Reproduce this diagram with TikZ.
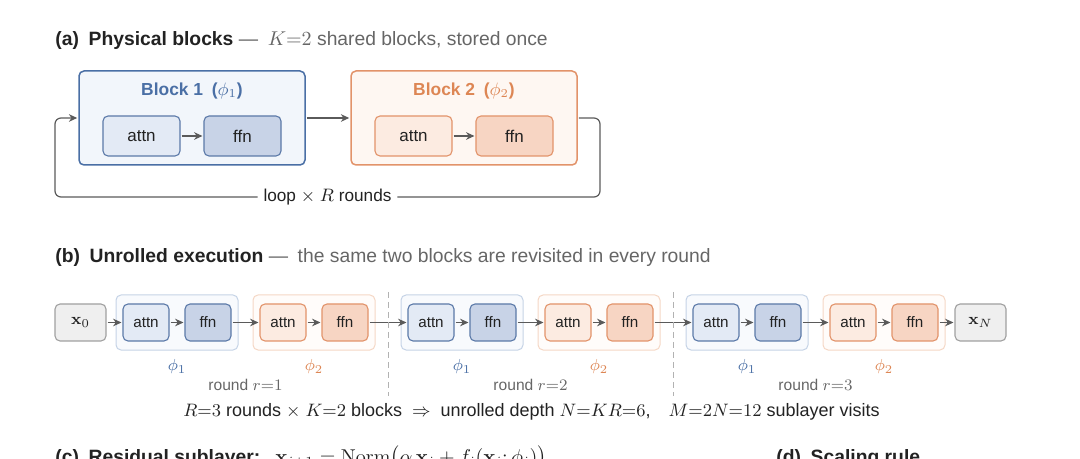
\documentclass[tikz,border=0pt]{standalone}
\usepackage[no-math]{fontspec}
\setmainfont{Liberation Sans}
\usetikzlibrary{arrows.meta}
\definecolor{blueD}{HTML}{4A6FA5}
\definecolor{blueIn}{HTML}{5B79A8}
\definecolor{blueBg}{HTML}{F2F6FB}
\definecolor{blueA}{HTML}{E3EAF5}
\definecolor{blueF}{HTML}{C8D3E7}
\definecolor{blueG}{HTML}{C5D3E6}
\definecolor{blueGbg}{HTML}{F8FAFD}
\definecolor{orD}{HTML}{E2936A}
\definecolor{orT}{HTML}{DD8654}
\definecolor{orBg}{HTML}{FEF7F2}
\definecolor{orA}{HTML}{FCEBE1}
\definecolor{orF}{HTML}{F7D5C3}
\definecolor{orG}{HTML}{F5D7C5}
\definecolor{orGbg}{HTML}{FFFCFA}
\definecolor{arrC}{HTML}{5A5A5A}
\definecolor{txtD}{HTML}{222222}
\definecolor{txtG}{HTML}{666666}
\definecolor{xbg}{HTML}{EFEFEF}
\definecolor{xbd}{HTML}{A0A0A0}
\begin{document}
\begin{tikzpicture}[x=0.5pt,y=-0.5pt,
  ttl/.style={anchor=base west,inner sep=0pt,font=\fontsize{9.65}{11}\selectfont,text=txtD},
  arr/.style={draw=arrC,line width=0.6pt,shorten <=0.5pt,shorten >=0.5pt,-{Stealth[length=4.2pt,width=3.8pt]}},
  bigblk/.style={draw=#1,line width=0.75pt,rounded corners=2.5pt,minimum width=113pt,minimum height=47pt,inner sep=0pt},
  inbox/.style={draw=#1,line width=0.55pt,rounded corners=2.5pt,minimum width=38.5pt,minimum height=20pt,inner sep=0pt,font=\fontsize{8.5}{9}\selectfont,text=txtD},
  sbox/.style={draw=#1,line width=0.55pt,rounded corners=2.5pt,minimum width=23pt,minimum height=18.5pt,inner sep=0pt,font=\fontsize{7.6}{9}\selectfont,text=txtD},
  grp/.style={draw=#1,line width=0.5pt,rounded corners=2.5pt,minimum width=61pt,minimum height=27.5pt,inner sep=0pt},
  xbox/.style={draw=xbd,fill=xbg,line width=0.55pt,rounded corners=2.5pt,minimum width=25.5pt,minimum height=18.5pt,inner sep=0pt,font=\fontsize{8.5}{9}\selectfont,text=txtD},
  sep/.style={draw=black!30,line width=0.5pt,dash pattern=on 3pt off 2pt},
  philab/.style={font=\fontsize{8.4}{9}\selectfont,inner sep=0pt},
  rlab/.style={font=\fontsize{7.8}{9}\selectfont,text=txtG,inner sep=0pt},
  btitle/.style={font=\fontsize{8.7}{9}\selectfont,inner sep=0pt}
]
\useasboundingbox (0,0) rectangle (1080,459);

% ---------------- (a)
\node[ttl] (ta) at (55,46) {\textbf{(a)\enspace Physical blocks} \textcolor{txtG}{---\enspace $K{=}2$ shared blocks, stored once}};

\node[bigblk=blueD,fill=blueBg] (B1) at (192,118) {};
\node[btitle,text=blueD] (B1t) at (192,91) {\textbf{Block 1\enspace(}$\phi_1$\textbf{)}};
\node[inbox=blueIn,fill=blueA] (A1) at (141.5,136) {attn};
\node[inbox=blueIn,fill=blueF] (F1) at (242.5,136) {ffn};
\draw[arr] (A1) -- (F1);

\node[bigblk=orD,fill=orBg] (B2) at (464,118) {};
\node[btitle,text=orT] (B2t) at (464,91) {\textbf{Block 2\enspace(}$\phi_2$\textbf{)}};
\node[inbox=orD,fill=orA] (A2) at (413.5,136) {attn};
\node[inbox=orD,fill=orF] (F2) at (514.5,136) {ffn};
\draw[arr] (A2) -- (F2);

\draw[arr] (B1.east) -- (B2.west);
\coordinate (lr) at (600,197);
\coordinate (ll) at (55,197);
\draw[arr,rounded corners=3pt] (B2.east) -| (lr) -- node[fill=white,inner xsep=3pt,inner ysep=1pt,font=\fontsize{8.6}{9}\selectfont,text=txtD] (looplab) {loop $\times$ $R$ rounds} (ll) |- (B1.west);

% ---------------- (b)
\node[ttl] (tb) at (55,263) {\textbf{(b)\enspace Unrolled execution} \textcolor{txtG}{---\enspace the same two blocks are revisited in every round}};

\node[xbox] (x0) at (80.5,322.5) {$\mathbf{x}_0$};
\node[xbox] (xN) at (980.5,322.5) {$\mathbf{x}_N$};

% groups
\foreach \g/\c/\k in {1/116/1,2/253/2,3/401/1,4/538/2,5/686/1,6/823/2}{
  \ifnum\k=1
    \node[grp=blueG,fill=blueGbg] (G\g) at (\c+61,322.5) {};
    \node[sbox=blueIn,fill=blueA] (a\g) at (\c+30,322.5) {attn};
    \node[sbox=blueIn,fill=blueF] (f\g) at (\c+92,322.5) {ffn};
    \node[philab,text=blueD] (p\g) at (\c+61,367) {$\phi_1$};
  \else
    \node[grp=orG,fill=orGbg] (G\g) at (\c+61,322.5) {};
    \node[sbox=orD,fill=orA] (a\g) at (\c+30,322.5) {attn};
    \node[sbox=orD,fill=orF] (f\g) at (\c+92,322.5) {ffn};
    \node[philab,text=orT] (p\g) at (\c+61,367) {$\phi_2$};
  \fi
  \draw[arr] (a\g) -- (f\g);
}
\draw[arr] (x0) -- (a1);
\draw[arr] (f1) -- (a2);
\draw[arr] (f2) -- (a3);
\draw[arr] (f3) -- (a4);
\draw[arr] (f4) -- (a5);
\draw[arr] (f5) -- (a6);
\draw[arr] (f6) -- (xN);

\coordinate (s1t) at (388,292); \coordinate (s1b) at (388,396);
\coordinate (s2t) at (673,292); \coordinate (s2b) at (673,396);
\draw[sep] (s1t) -- (s1b);
\draw[sep] (s2t) -- (s2b);

\node[rlab] (r1) at (245.5,385) {round $r{=}1$};
\node[rlab] (r2) at (530.5,385) {round $r{=}2$};
\node[rlab] (r3) at (815.5,385) {round $r{=}3$};

\node[font=\fontsize{9}{10}\selectfont,text=txtD,inner sep=0pt] (sum) at (531.5,412) {$R{=}3$ rounds $\times$ $K{=}2$ blocks \;$\Rightarrow$\; unrolled depth $N{=}KR{=}6$,\quad $M{=}2N{=}12$ sublayer visits};

% ---------------- (c), (d) (cut off at bottom edge, as in the reference)
\node[ttl] (tc) at (55,463) {\textbf{(c)\enspace Residual sublayer:}\enspace\ $\mathbf{x}_{i+1}=\mathrm{Norm}\big(\alpha\,\mathbf{x}_i+f_i(\mathbf{x}_i;\phi_i)\big)$};
\node[ttl] (td) at (776,463) {\textbf{(d)\enspace Scaling rule}};
\end{tikzpicture}
\end{document}
